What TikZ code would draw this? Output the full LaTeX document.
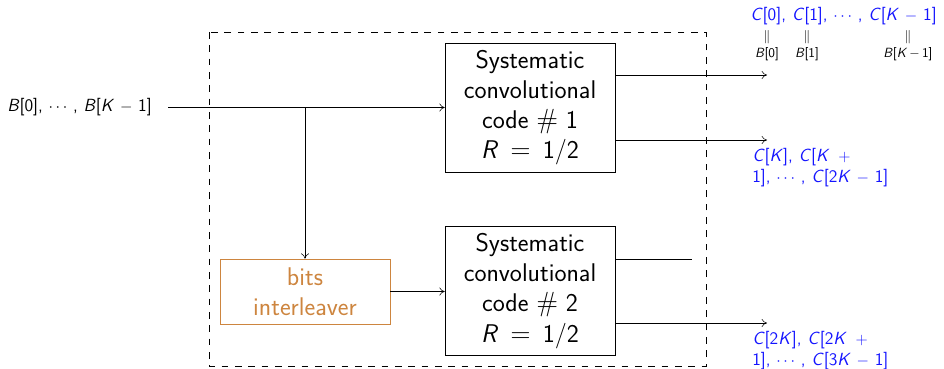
\documentclass[tikz,border=0pt]{standalone}
\usetikzlibrary{arrows.meta}
\definecolor{ilcol}{RGB}{205,133,63}
\definecolor{labblue}{RGB}{20,20,255}
\newcommand{\iv}[1]{\textit{#1}}
\begin{document}
\begin{tikzpicture}[x=0.75pt,y=-0.75pt,
  every node/.style={font=\sffamily},
  block/.style={draw, minimum width=127.5pt, minimum height=96.75pt, align=center, inner sep=0pt,
    font=\sffamily\fontsize{19.2}{22.6}\selectfont},
  ilbox/.style={draw=ilcol, text=ilcol, minimum width=127.5pt, minimum height=48.75pt, align=center, inner sep=0pt,
    font=\sffamily\fontsize{19.2}{22.6}\selectfont},
  lab/.style={font=\sffamily\fontsize{13.2}{16}\selectfont, inner sep=0pt},
  bluelab/.style={lab, text=labblue, align=left},
  tiny/.style={font=\sffamily\fontsize{10}{11}\selectfont, inner sep=0pt},
  frame/.style={draw, dash pattern=on 5pt off 5pt},
  conn/.style={draw, -{To[length=4pt,width=6pt]}}]
\useasboundingbox (0,0) rectangle (944,368);
% dashed frame
\draw[frame] (209,32) rectangle (706,366);
% blocks
\node[block] (b1) at (530,107.5) {Systematic\\convolutional\\code $\#$ 1\\\iv{R} \,$=$\, 1/2};
\node[block] (b2) at (530,291) {Systematic\\convolutional\\code $\#$ 2\\\iv{R} \,$=$\, 1/2};
\node[ilbox] (il) at (305,291.5) {bits\\interleaver};
% input
\node[lab, anchor=west] (in) at (7,107.5) {\iv{B}[0], $\cdots$ , \iv{B}[\iv{K} $-$ 1]};
\coordinate (br) at (305,107.5);
\coordinate (ins) at (168,107.5);
\draw[conn] (ins) -- (b1.west);
\draw[conn] (br) -- (il.north);
\draw[conn] (il.east) -- (b2.west |- il.east);
% outputs
\coordinate (o1) at (767,75);
\coordinate (o2) at (767,140);
\coordinate (o3) at (692,259);
\coordinate (o4) at (767,323);
\draw[conn] (b1.east |- o1) -- (o1);
\draw[conn] (b1.east |- o2) -- (o2);
\draw (b2.east |- o3) -- (o3);
\draw[conn] (b2.east |- o4) -- (o4);
% output labels
\node[bluelab, anchor=west] (l1) at (750,16) {\iv{C}[0], \iv{C}[1], $\cdots$ , \iv{C}[\iv{K} $-$ 1]};
\node[tiny] (e0) at (767,37) {$\|$};
\node[tiny] (e1) at (807,37) {$\|$};
\node[tiny] (e2) at (908,37) {$\|$};
\node[tiny] (s0) at (767,54) {\iv{B}[0]};
\node[tiny] (s1) at (807,54) {\iv{B}[1]};
\node[tiny] (s2) at (908,54) {\iv{B}[\iv{K}\,$-$\,1]};
\node[bluelab, anchor=north west] (l2) at (752,148) {\iv{C}[\iv{K}], \iv{C}[\iv{K}\enspace$+$\\1], $\cdots$ , \iv{C}[2\iv{K} $-$ 1]};
\node[bluelab, anchor=north west] (l3) at (752,331) {\iv{C}[2\iv{K}], \iv{C}[2\iv{K}\enspace$+$\\1], $\cdots$ , \iv{C}[3\iv{K} $-$ 1]};
\end{tikzpicture}
\end{document}
